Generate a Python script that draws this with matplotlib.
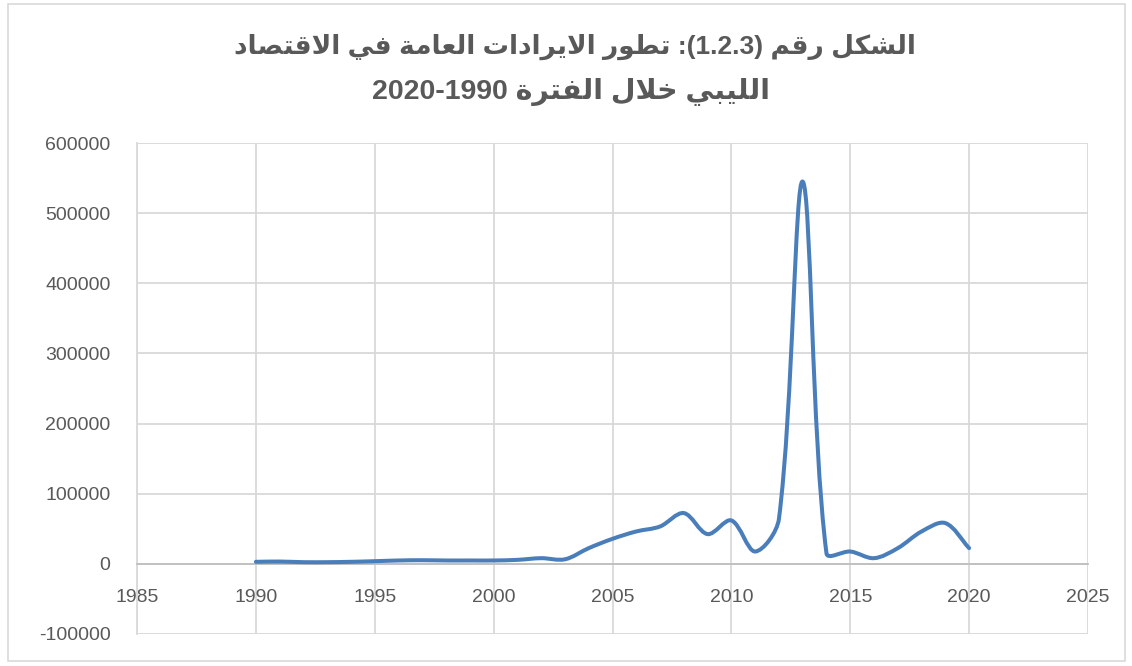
#!/usr/bin/env python3

# Public revenue of the Libyan economy 1990-2020, redrawn in the style of an
# Excel scatter chart with smoothed lines

import matplotlib
matplotlib.use("Agg")
import matplotlib.pyplot as pyplot
from matplotlib.path import Path
from matplotlib.patches import PathPatch, Rectangle

TITLE_LINE1 = "الشكل رقم (1.2.3): تطور الايرادات العامة في الاقتصاد"
TITLE_LINE2 = "الليبي خلال الفترة 1990-2020"

years = [1990, 1991, 1992, 1993, 1994, 1995, 1996, 1997, 1998, 1999,
	 2000, 2001, 2002, 2003, 2004, 2005, 2006, 2007, 2008, 2009,
	 2010, 2011, 2012, 2013, 2014, 2015, 2016, 2017, 2018, 2019, 2020]
revenue = [2900, 3300, 2400, 2400, 2900, 3800, 4800, 5200, 4800, 4800,
	   4800, 5700, 8100, 6500, 22400, 35700, 46200, 53300, 72400, 42400,
	   61900, 17600, 64000, 545000, 15000, 17600, 8100, 22400, 46200, 58100,
	   22400]

x_ticks = [1985, 1990, 1995, 2000, 2005, 2010, 2015, 2020, 2025]
y_ticks = [-100000, 0, 100000, 200000, 300000, 400000, 500000, 600000]

TEXT_GREY = "#595959"
GRID_GREY = "#d9d9d9"
AXIS_GREY = "#bfbfbf"
LINE_BLUE = "#4a7ebb"

# Arabic contextual forms (isolated, final, initial, medial); matplotlib does
# no shaping itself, so the presentation forms are picked here
ARABIC_FORMS = {
	"ا": (0xFE8D, 0xFE8E, None, None),
	"ب": (0xFE8F, 0xFE90, 0xFE91, 0xFE92),
	"ة": (0xFE93, 0xFE94, None, None),
	"ت": (0xFE95, 0xFE96, 0xFE97, 0xFE98),
	"خ": (0xFEA5, 0xFEA6, 0xFEA7, 0xFEA8),
	"د": (0xFEA9, 0xFEAA, None, None),
	"ر": (0xFEAD, 0xFEAE, None, None),
	"ش": (0xFEB5, 0xFEB6, 0xFEB7, 0xFEB8),
	"ص": (0xFEB9, 0xFEBA, 0xFEBB, 0xFEBC),
	"ط": (0xFEC1, 0xFEC2, 0xFEC3, 0xFEC4),
	"ع": (0xFEC9, 0xFECA, 0xFECB, 0xFECC),
	"ف": (0xFED1, 0xFED2, 0xFED3, 0xFED4),
	"ق": (0xFED5, 0xFED6, 0xFED7, 0xFED8),
	"ك": (0xFED9, 0xFEDA, 0xFEDB, 0xFEDC),
	"ل": (0xFEDD, 0xFEDE, 0xFEDF, 0xFEE0),
	"م": (0xFEE1, 0xFEE2, 0xFEE3, 0xFEE4),
	"و": (0xFEED, 0xFEEE, None, None),
	"ي": (0xFEF1, 0xFEF2, 0xFEF3, 0xFEF4),
	"لا": (0xFEFB, 0xFEFC, None, None),
}
MIRROR = {"(": ")", ")": "("}

def is_arabic(token):
	return any(ch in ARABIC_FORMS for ch in token)

def shape_word(word):
	# merge lam + alef into the ligature first
	letters = []
	i = 0
	while i < len(word):
		if word[i:i + 2] == "لا":
			letters.append("لا")
			i += 2
		else:
			letters.append(word[i])
			i += 1

	out = []
	for i, letter in enumerate(letters):
		forms = ARABIC_FORMS[letter]
		prev_joins = i > 0 and ARABIC_FORMS[letters[i - 1]][2] is not None
		next_joins = i < len(letters) - 1 and forms[2] is not None
		if prev_joins and next_joins:
			code = forms[3]
		elif prev_joins:
			code = forms[1]
		elif next_joins:
			code = forms[2]
		else:
			code = forms[0]
		out.append(chr(code))
	return "".join(reversed(out))

def flip_neutral_token(token):
	# numbers keep their own order, everything else around them is reversed
	runs = []
	for ch in token:
		if (ch.isdigit() or ch == ".") and runs and runs[-1][0]:
			runs[-1][1] += ch
		elif ch.isdigit():
			runs.append([True, ch])
		else:
			runs.append([False, MIRROR.get(ch, ch)])
	return "".join(run[1] for run in reversed(runs))

# Right to left line -> string that can be drawn left to right
def visual_rtl(line):
	tokens = line.split(" ")
	drawn = []
	for token in reversed(tokens):
		if is_arabic(token):
			drawn.append(shape_word(token))
		else:
			drawn.append(flip_neutral_token(token))
	return " ".join(drawn)

# Excel style smoothing: cubic Bezier segments whose control points follow the
# neighbouring points, scaled by chord lengths measured on screen
def smooth_path(ax, xs, ys):
	to_disp = ax.transData
	pts = to_disp.transform(list(zip(xs, ys)))
	n = len(pts)

	def dist(a, b):
		return ((a[0] - b[0]) ** 2 + (a[1] - b[1]) ** 2) ** 0.5

	verts = [pts[0]]
	codes = [Path.MOVETO]
	for i in range(n - 1):
		p0 = pts[i - 1] if i > 0 else pts[i]
		p1 = pts[i]
		p2 = pts[i + 1]
		p3 = pts[i + 2] if i + 2 < n else pts[i + 1]
		d01 = dist(p0, p1)
		d12 = dist(p1, p2)
		d23 = dist(p2, p3)
		k1 = d12 / (d01 + d12) / 1.5 if d01 + d12 > 0 else 0
		k2 = d12 / (d12 + d23) / 1.5 if d12 + d23 > 0 else 0
		c1 = p1 + (p2 - p0) * k1 / 2
		c2 = p2 - (p3 - p1) * k2 / 2
		verts += [c1, c2, p2]
		codes += [Path.CURVE4] * 3

	data_verts = to_disp.inverted().transform(verts)
	return Path(data_verts, codes)

def plot_chart(outfile):
	fig = pyplot.figure(figsize=(11.32, 6.66), dpi=100)
	fig.patch.set_facecolor("white")

	# light border round the whole chart
	fig.patches.append(Rectangle((8 / 1132, 5 / 666), 1117 / 1132, 657 / 666,
				     transform=fig.transFigure, fill=False,
				     edgecolor=GRID_GREY, linewidth=1.2))

	title_font = {"family": ["Liberation Sans", "DejaVu Sans"],
		      "weight": "bold", "color": TEXT_GREY}
	fig.text(0.508, 0.93, visual_rtl(TITLE_LINE1), ha="center", va="center",
		 size=19, **title_font)
	fig.text(0.504, 0.862, visual_rtl(TITLE_LINE2), ha="center", va="center",
		 size=20.5, **title_font)

	ax = fig.add_axes([137 / 1132, 32 / 666, 951 / 1132, 491 / 666])
	ax.set_xlim(1985, 2025)
	ax.set_ylim(-100000, 600000)
	ax.set_xticks(x_ticks)
	ax.set_yticks(y_ticks)
	ax.set_xticklabels([str(t) for t in x_ticks])
	ax.set_yticklabels([str(t) for t in y_ticks])
	ax.grid(True, color=GRID_GREY, linewidth=1.3)
	ax.set_axisbelow(True)

	for side in ("top", "right"):
		ax.spines[side].set_visible(False)
	ax.spines["left"].set_color(GRID_GREY)
	ax.spines["left"].set_linewidth(1.3)
	ax.spines["bottom"].set_position(("data", 0))
	ax.spines["bottom"].set_color(AXIS_GREY)
	ax.spines["bottom"].set_linewidth(1.3)

	ax.tick_params(axis="both", length=0, labelsize=14, labelcolor=TEXT_GREY)
	ax.tick_params(axis="y", pad=19)
	ax.tick_params(axis="x", pad=18)
	for label in ax.get_xticklabels() + ax.get_yticklabels():
		label.set_fontfamily("Liberation Sans")

	path = smooth_path(ax, years, revenue)
	ax.add_patch(PathPatch(path, facecolor="none", edgecolor=LINE_BLUE,
			       linewidth=2.9, capstyle="round", joinstyle="round",
			       zorder=3))

	fig.savefig(outfile, dpi=100, facecolor="white")

if (__name__ == "__main__"):
	plot_chart("out.png")
